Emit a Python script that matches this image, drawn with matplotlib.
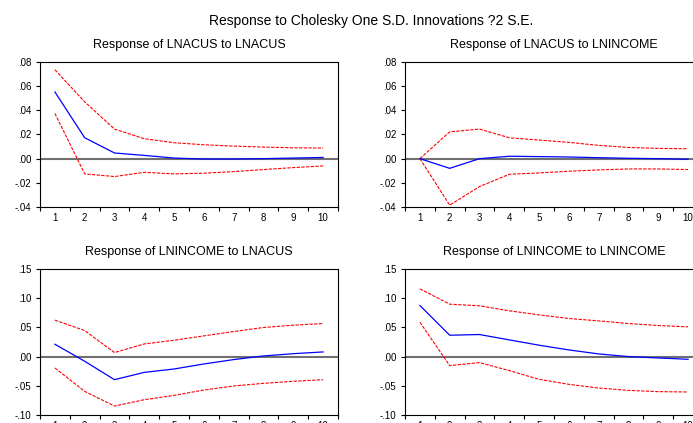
import matplotlib
matplotlib.use("Agg")
import matplotlib.pyplot as plt
from matplotlib.ticker import FuncFormatter, FixedLocator

plt.rcParams['font.family'] = ['Liberation Sans', 'DejaVu Sans']

periods = [1, 2, 3, 4, 5, 6, 7, 8, 9, 10]

# LNACUS to LNACUS
acus_acus = [0.0552, 0.0173, 0.0047, 0.0027, 0.0005, -0.0003, -0.0003, 0.0, 0.0005, 0.001]
acus_acus_hi = [0.0736, 0.047, 0.0245, 0.0165, 0.0132, 0.0115, 0.0104, 0.0096, 0.009, 0.0088]
acus_acus_lo = [0.0374, -0.0126, -0.0148, -0.0113, -0.0126, -0.012, -0.0107, -0.009, -0.0074, -0.006]

# LNACUS to LNINCOME
acus_inc = [0.0, -0.008, 0.0, 0.002, 0.0017, 0.0014, 0.0008, 0.0003, 0.0, -0.0005]
acus_inc_hi = [0.0, 0.0222, 0.0245, 0.0173, 0.0154, 0.0135, 0.011, 0.0093, 0.0085, 0.0082]
acus_inc_lo = [0.0, -0.0385, -0.0231, -0.0129, -0.0118, -0.0104, -0.0093, -0.0085, -0.0085, -0.009]

# LNINCOME to LNACUS
inc_acus = [0.0212, -0.008, -0.0395, -0.027, -0.0212, -0.0126, -0.0051, 0.0011, 0.005, 0.008]
inc_acus_hi = [0.0624, 0.0446, 0.0069, 0.0217, 0.028, 0.0355, 0.0429, 0.0498, 0.0538, 0.0566]
inc_acus_lo = [-0.0195, -0.0595, -0.0847, -0.0738, -0.0664, -0.0572, -0.0503, -0.0458, -0.0423, -0.0395]

# LNINCOME to LNINCOME
inc_inc = [0.0875, 0.0366, 0.0378, 0.0286, 0.0195, 0.0114, 0.0046, 0.0, -0.0023, -0.0046]
inc_inc_hi = [0.116, 0.0898, 0.087, 0.0784, 0.0715, 0.0652, 0.0612, 0.0566, 0.0532, 0.0509]
inc_inc_lo = [0.0589, -0.0154, -0.0103, -0.024, -0.0389, -0.0475, -0.0538, -0.0578, -0.06, -0.0606]

titles = ["Response of LNACUS to LNACUS", "Response of LNACUS to LNINCOME",
          "Response of LNINCOME to LNACUS", "Response of LNINCOME to LNINCOME"]
top_ticks = [-0.04, -0.02, 0.0, 0.02, 0.04, 0.06, 0.08]
bot_ticks = [-0.10, -0.05, 0.0, 0.05, 0.10, 0.15]

W, H = 693, 423
fig = plt.figure(figsize=(W / 100, H / 100), dpi=100)
fig.text(371 / W, 1 - 21 / H, "Response to Cholesky One S.D. Innovations ?2 S.E.",
         ha='center', va='center', fontsize=10)

def fmt(v, pos):
    s = "%.2f" % v
    if s.startswith("0"):
        s = s[1:]
    elif s.startswith("-0"):
        s = "-" + s[2:]
    return s

# pixel boxes: left, top, right, bottom
boxes = [(40, 62, 338, 207), (405, 62, 703, 207), (40, 269, 338, 415), (405, 269, 703, 415)]
series = [(acus_acus, acus_acus_hi, acus_acus_lo, top_ticks),
          (acus_inc, acus_inc_hi, acus_inc_lo, top_ticks),
          (inc_acus, inc_acus_hi, inc_acus_lo, bot_ticks),
          (inc_inc, inc_inc_hi, inc_inc_lo, bot_ticks)]

for (l, t, r, b), (mid, hi, lo, yt), title in zip(boxes, series, titles):
    ax = fig.add_axes([l / W, 1 - b / H, (r - l) / W, (b - t) / H])
    ax.axhline(0, color='#707070', lw=1.5, zorder=1)
    ax.plot(periods, mid, color='blue', lw=0.9, zorder=3)
    ax.plot(periods, hi, color='red', lw=0.8, ls=(0, (3, 1.2)), zorder=2)
    ax.plot(periods, lo, color='red', lw=0.8, ls=(0, (3, 1.2)), zorder=2)
    ax.set_xlim(0.5, 10.5)
    ax.set_ylim(yt[0], yt[-1])
    ax.set_yticks(yt)
    ax.yaxis.set_major_formatter(FuncFormatter(fmt))
    ax.set_xticks(periods)
    ax.set_xticklabels([str(p) for p in periods])
    ax.xaxis.set_minor_locator(FixedLocator([p + 0.5 for p in range(0, 11)]))
    ax.tick_params(axis='x', which='major', length=0, labelsize=7, pad=4)
    ax.tick_params(axis='x', which='minor', length=3, width=0.8, direction='out')
    ax.tick_params(axis='y', length=3, width=0.8, labelsize=7, pad=3)
    for sp in ax.spines.values():
        sp.set_linewidth(0.8)
    ax.set_title(title, fontsize=9, pad=10)

fig.savefig("out.png", dpi=100)
